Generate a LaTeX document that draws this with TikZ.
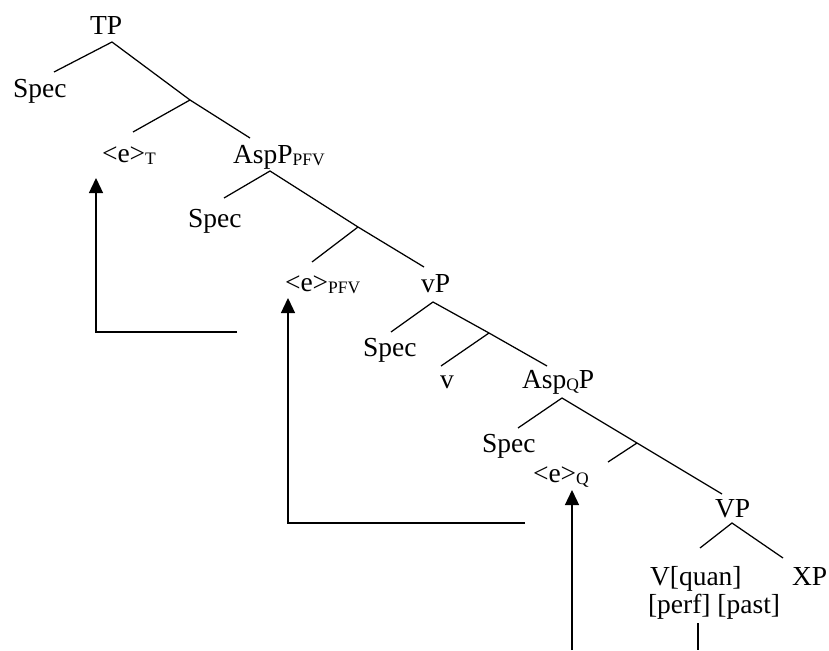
\documentclass[tikz,border=0pt]{standalone}
\usepackage{fontspec}
\setmainfont{Liberation Serif}
\usetikzlibrary{arrows.meta}
\newcommand{\sbs}[1]{\raisebox{-2.5pt}{\fontsize{17.5}{18}\selectfont #1}}
\begin{document}
\begin{tikzpicture}[x=1pt,y=-1pt,
  lbl/.style={anchor=base west, inner sep=0pt, outer sep=0pt, font=\fontsize{27.5}{30}\selectfont},
  br/.style={line width=1.25pt},
  mv/.style={line width=1.3pt, -{Triangle[width=14pt,length=15pt]}}]
\useasboundingbox (0,0) rectangle (829,650);
% labels
\node[lbl] (TP) at (90,35) {TP};
\node[lbl] (spA) at (13,98) {Spec};
\node[lbl] (eT) at (102,162) {<e>\sbs{T}};
\node[lbl] (AspP) at (233,163) {AspP\sbs{PFV}};
\node[lbl] (spB) at (188,227) {Spec};
\node[lbl] (ePFV) at (285,291) {<e>\sbs{PFV}};
\node[lbl] (vP) at (421,292) {vP};
\node[lbl] (spC) at (363,356) {Spec};
\node[lbl] (v) at (440,388) {v};
\node[lbl] (AspQ) at (522,388) {Asp\sbs{Q}P};
\node[lbl] (spD) at (482,452) {Spec};
\node[lbl] (eQ) at (533,482) {<e>\sbs{Q}};
\node[lbl] (VP) at (715,517) {VP};
\node[lbl] (Vq) at (650,585) {V[quan]};
\node[lbl] (XP) at (792,585) {XP};
\node[lbl] (pp) at (648,613) {[perf] [past]};
% branch points
\coordinate (a1) at (112,42);  \coordinate (a1l) at (54,72);
\coordinate (i1) at (190,100); \coordinate (i1l) at (133,132); \coordinate (a2t) at (250,138);
\coordinate (a2) at (270,171); \coordinate (a2l) at (224,198);
\coordinate (i2) at (358,227); \coordinate (i2l) at (312,262); \coordinate (a3t) at (424,267);
\coordinate (a3) at (433,302); \coordinate (a3l) at (391,332);
\coordinate (i3) at (489,333); \coordinate (i3l) at (441,366); \coordinate (a4t) at (547,366);
\coordinate (a4) at (562,398); \coordinate (a4l) at (518,428);
\coordinate (i4) at (637,443); \coordinate (i4l) at (608,462); \coordinate (a5t) at (722,494);
\coordinate (a5) at (732,523); \coordinate (a5l) at (700,548); \coordinate (a5r) at (783,558);
\coordinate (ppb) at (698,623); \coordinate (ppe) at (698,650);
% tree lines
\draw[br] (a1l) -- (a1) -- (i1) -- (a2t);
\draw[br] (i1) -- (i1l);
\draw[br] (a2l) -- (a2) -- (i2) -- (a3t);
\draw[br] (i2) -- (i2l);
\draw[br] (a3l) -- (a3) -- (i3) -- (a4t);
\draw[br] (i3) -- (i3l);
\draw[br] (a4l) -- (a4) -- (i4) -- (a5t);
\draw[br] (i4) -- (i4l);
\draw[br] (a5l) -- (a5) -- (a5r);
\draw[br] (ppb) -- (ppe);
% movement arrows
\coordinate (m1s) at (237,332); \coordinate (m1c) at (96,332); \coordinate (m1t) at (96,178);
\coordinate (m2s) at (525,523); \coordinate (m2c) at (288,523); \coordinate (m2t) at (288,298);
\coordinate (m3s) at (572,650); \coordinate (m3t) at (572,490);
\draw[mv] (m1s) -- (m1c) -- (m1t);
\draw[mv] (m2s) -- (m2c) -- (m2t);
\draw[mv] (m3s) -- (m3t);
\end{tikzpicture}
\end{document}
